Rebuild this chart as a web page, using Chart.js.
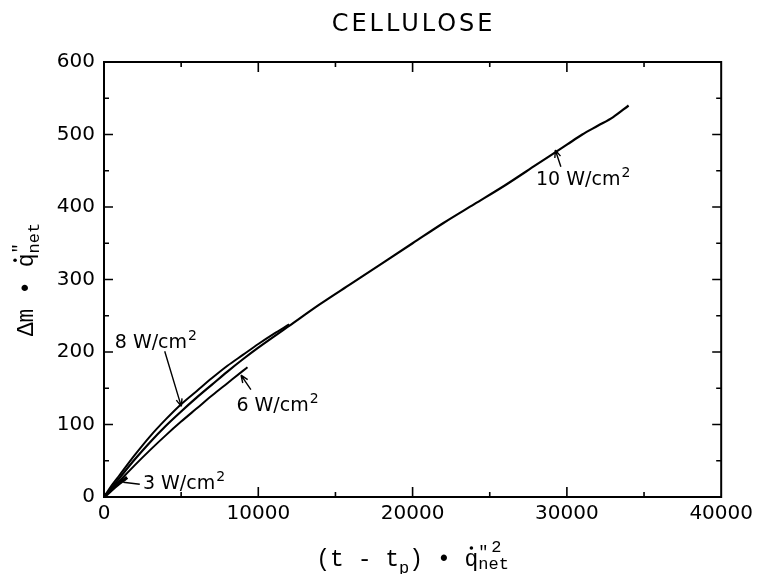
<!DOCTYPE html>
<html><head><meta charset="utf-8">
<script src="https://cdn.jsdelivr.net/npm/chart.js@4"></script>
<style>html,body{margin:0;padding:0;background:#fff;overflow:hidden}#wrap{width:758px;height:574px}</style>
</head><body>
<div id="wrap"><canvas id="c" width="758" height="574"></canvas></div>
<script>
// ---------- data ----------
const chartTitle = "CELLULOSE";
const xTickValues = [0, 10000, 20000, 30000, 40000];
const yTickValues = [0, 100, 200, 300, 400, 500, 600];

const x10 = [0, 1000, 2000, 3000, 4000, 5000, 6000, 7000, 8000, 9000, 10000, 12000, 14000, 16000, 18000, 20000, 22000, 24000, 26000, 28000, 30000, 31000, 32000, 33000, 34000];
const y10 = [0, 26, 52, 76, 98, 118, 137, 155, 173, 190, 206, 236, 266, 294, 322, 350, 378, 404, 430, 458, 486, 500, 512, 524, 540];

const x8 = [0, 500, 1000, 2000, 3000, 4000, 5000, 6000, 7000, 8000, 9000, 10000, 11000, 12000];
const y8 = [0, 16, 30, 58, 84, 107, 128, 146, 164, 181, 196, 211, 225, 238];

const x6 = [0, 1000, 2000, 3000, 4000, 5000, 6000, 7000, 8000, 9000, 9300];
const y6 = [0, 22, 44, 65, 85, 104, 122, 140, 157, 174, 179];

const x3 = [0, 500, 1000, 1500];
const y3 = [0, 10, 19, 27];

const seriesNames = ["10 W/cm2", "8 W/cm2", "6 W/cm2", "3 W/cm2"];

// curve labels: text anchor and pointer, in data units
const curveNotes = [
  { text: "8 W/cm", sup: "2", tx: 700,   ty: 206, fx: 3935,  fy: 201,   px: 5010,  py: 125,  head: true },
  { text: "6 W/cm", sup: "2", tx: 8580,  ty: 119, fx: 9520,  fy: 148,   px: 8880,  py: 168,  head: true },
  { text: "3 W/cm", sup: "2", tx: 2520,  ty: 11,  fx: 2320,  fy: 17.5,  px: 1245,  py: 20.3, head: false },
  { text: "10 W/cm", sup: "2", tx: 28000, ty: 430, fx: 29610, fy: 455.6, px: 29250, py: 478.6, head: true }
];

const pts = (xs, ys) => xs.map((x, i) => ({ x: x, y: ys[i] }));

const MONO = '"Liberation Mono", "DejaVu Sans Mono", monospace';
const SANS = '"DejaVu Sans", sans-serif';

function drawRuns(ctx, runs, x0, base) {
  let x = x0;
  runs.forEach(r => {
    ctx.font = r.size + 'px ' + r.fam;
    const w = ctx.measureText(r.t).width;
    const dx = r.dx || 0;
    ctx.fillText(r.t, x + dx, base + (r.dy || 0));
    if (r.dot) {
      ctx.beginPath();
      ctx.arc(x + w / 2, base - r.size * 0.78, 1.8, 0, Math.PI * 2);
      ctx.fill();
    }
    if (!r.noAdvance) x += w;
  });
  return x - x0;
}
function runsWidth(ctx, runs) {
  let w = 0;
  runs.forEach(r => { ctx.font = r.size + 'px ' + r.fam; if (!r.noAdvance) w += ctx.measureText(r.t).width; });
  return w;
}

const axisTitleRunsX = [
  { t: "(t - t", size: 23, fam: MONO },
  { t: "p", size: 17, fam: MONO, dy: 7 },
  { t: ") \u2022 ", size: 23, fam: MONO },
  { t: "q", size: 23, fam: MONO, dot: true },
  { t: "\u2033", size: 17, fam: MONO, dy: -9, noAdvance: true },
  { t: "2", size: 17, fam: MONO, dy: -14, dx: 13, noAdvance: true },
  { t: "net", size: 17, fam: MONO, dy: 3 }
];
const axisTitleRunsY = [
  { t: "\u0394m \u2022 ", size: 23, fam: MONO },
  { t: "q", size: 23, fam: MONO, dot: true },
  { t: "\u2033", size: 17, fam: MONO, dy: -9, noAdvance: true },
  { t: "net", size: 17, fam: MONO, dy: 6 }
];

const decor = {
  id: 'decor',
  afterDraw(chart) {
    const ctx = chart.ctx;
    const a = chart.chartArea;
    const xs = chart.scales.x, ys = chart.scales.y;
    ctx.save();
    ctx.strokeStyle = '#000';
    ctx.fillStyle = '#000';
    // frame
    ctx.lineWidth = 2;
    ctx.strokeRect(a.left, a.top, a.right - a.left, a.bottom - a.top);
    // inward ticks
    ctx.lineWidth = 1.6;
    ctx.beginPath();
    for (let v = 5000; v < 40000; v += 5000) {
      const p = xs.getPixelForValue(v);
      const L = v % 10000 === 0 ? 10 : 5;
      ctx.moveTo(p, a.bottom); ctx.lineTo(p, a.bottom - L);
      ctx.moveTo(p, a.top); ctx.lineTo(p, a.top + L);
    }
    for (let v = 50; v < 600; v += 50) {
      const p = ys.getPixelForValue(v);
      const L = v % 100 === 0 ? 9 : 5;
      ctx.moveTo(a.left, p); ctx.lineTo(a.left + L, p);
      ctx.moveTo(a.right, p); ctx.lineTo(a.right - L, p);
    }
    ctx.stroke();

    // title
    ctx.font = '24px ' + SANS;
    ctx.textAlign = 'center';
    ctx.textBaseline = 'alphabetic';
    try { ctx.letterSpacing = '3px'; } catch (e) {}
    ctx.fillText(chartTitle, (a.left + a.right) / 2 + 1, 31);
    try { ctx.letterSpacing = '0px'; } catch (e) {}
    ctx.textAlign = 'left';

    // x axis title
    const cx = (a.left + a.right) / 2;
    const wX = runsWidth(ctx, axisTitleRunsX);
    drawRuns(ctx, axisTitleRunsX, cx - wX / 2, 566);

    // y axis title (rotated)
    const cy = (a.top + a.bottom) / 2;
    const wY = runsWidth(ctx, axisTitleRunsY);
    ctx.save();
    ctx.translate(33, cy + wY / 2);
    ctx.rotate(-Math.PI / 2);
    drawRuns(ctx, axisTitleRunsY, 0, 0);
    ctx.restore();

    // curve labels
    curveNotes.forEach(n => {
      const tx = xs.getPixelForValue(n.tx), ty = ys.getPixelForValue(n.ty);
      ctx.font = '19px ' + SANS;
      ctx.fillText(n.text, tx, ty);
      const w = ctx.measureText(n.text).width;
      ctx.font = '14px ' + SANS;
      ctx.fillText(n.sup, tx + w + 1, ty - 8);
      const fx = xs.getPixelForValue(n.fx), fy = ys.getPixelForValue(n.fy);
      const px = xs.getPixelForValue(n.px), py = ys.getPixelForValue(n.py);
      ctx.lineWidth = 1.4;
      ctx.beginPath();
      ctx.moveTo(fx, fy); ctx.lineTo(px, py);
      if (n.head) {
        const ang = Math.atan2(fy - py, fx - px);
        const hl = 8, hw = 0.38;
        ctx.moveTo(px, py); ctx.lineTo(px + hl * Math.cos(ang + hw), py + hl * Math.sin(ang + hw));
        ctx.moveTo(px, py); ctx.lineTo(px + hl * Math.cos(ang - hw), py + hl * Math.sin(ang - hw));
      }
      ctx.stroke();
    });
    ctx.restore();
  }
};

const lineDs = (label, data, w) => ({
  label: label, data: data, borderColor: '#000', backgroundColor: '#000',
  borderWidth: w, pointRadius: 0, fill: false, cubicInterpolationMode: 'monotone'
});

new Chart(document.getElementById('c'), {
  type: 'line',
  data: {
    datasets: [
      lineDs(seriesNames[0], pts(x10, y10), 2.2),
      lineDs(seriesNames[1], pts(x8, y8), 2),
      lineDs(seriesNames[2], pts(x6, y6), 2),
      lineDs(seriesNames[3], pts(x3, y3), 3.5)
    ]
  },
  options: {
    responsive: false,
    animation: false,
    devicePixelRatio: 1,
    layout: { padding: { top: 62, right: 34, left: 0, bottom: 0 } },
    plugins: { legend: { display: false }, title: { display: false }, tooltip: { enabled: false } },
    scales: {
      x: {
        type: 'linear', min: 0, max: 40000,
        afterBuildTicks: s => { s.ticks = xTickValues.map(v => ({ value: v })); },
        afterFit: s => { s.height = 77; },
        grid: { display: false, drawTicks: false },
        border: { display: false },
        ticks: { color: '#000', font: { family: 'DejaVu Sans', size: 20 }, padding: 5, maxRotation: 0, autoSkip: false,
                 callback: v => String(v) }
      },
      y: {
        type: 'linear', min: 0, max: 600,
        afterBuildTicks: s => { s.ticks = yTickValues.map(v => ({ value: v })); },
        afterFit: s => { s.width = 104; },
        grid: { display: false, drawTicks: false },
        border: { display: false },
        ticks: { color: '#000', font: { family: 'DejaVu Sans', size: 20 }, padding: 9, autoSkip: false,
                 callback: v => String(v) }
      }
    }
  },
  plugins: [decor]
});
</script>
</body></html>
